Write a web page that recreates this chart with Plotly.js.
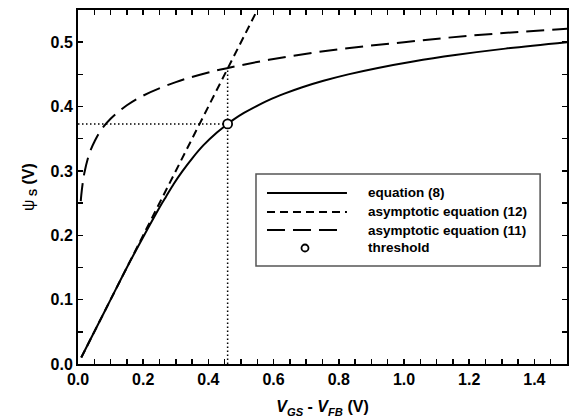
<!DOCTYPE html>
<html>
<head>
<meta charset="utf-8">
<script src="https://cdn.plot.ly/plotly-3.0.1.min.js"></script>
<style>html,body{margin:0;padding:0;background:#fff;}#chart{width:574px;height:420px;}</style>
</head>
<body>
<div id="chart"></div>
<script>
// equation (8): full solution
const xEq8 = [0.01,0.05,0.10,0.15,0.203,0.258,0.27,0.294,0.321,0.351,0.385,0.427,0.459,0.478,0.509,0.545,0.585,0.633,0.688,0.753,0.829,0.92,1.028,1.157,1.311,1.5];
const yEq8 = [0.01,0.05,0.10,0.15,0.20,0.25,0.26,0.28,0.30,0.32,0.34,0.36,0.373,0.38,0.39,0.40,0.41,0.42,0.43,0.44,0.45,0.46,0.47,0.48,0.49,0.50];
// asymptotic equation (12): linear
const xEq12 = [0.01,0.57];
const yEq12 = [0.01,0.57];
// asymptotic equation (11): logarithmic
const xEq11 = [0.0085,0.01,0.015,0.02,0.03,0.04,0.05,0.07,0.10,0.15,0.20,0.30,0.40,0.46,0.60,0.80,1.00,1.20,1.50];
const yEq11 = [0.253,0.262,0.283,0.298,0.319,0.334,0.345,0.363,0.381,0.402,0.417,0.438,0.453,0.460,0.474,0.489,0.500,0.510,0.521];
// threshold point and intersection of asymptotes
const xThr = [0.459];
const yThr = [0.373];
const yCross = [0.46];
const xTicks = [0.0,0.2,0.4,0.6,0.8,1.0,1.2,1.4];
const yTicks = [0.0,0.1,0.2,0.3,0.4,0.5];
const legendLabels = ['equation (8)','asymptotic equation (12)','asymptotic equation (11)','threshold'];

const FONT = 'Arial, "Liberation Sans", sans-serif';
const traces = [
  {x:[0, xThr[0]], y:[yThr[0], yThr[0]], mode:'lines', line:{color:'#000', width:1.5, dash:'1.5px,2.5px'}, showlegend:false, hoverinfo:'skip'},
  {x:[xThr[0], xThr[0]], y:[0, yCross[0]], mode:'lines', line:{color:'#000', width:1.5, dash:'1.5px,2.5px'}, showlegend:false, hoverinfo:'skip'},
  {x:xEq12, y:yEq12, mode:'lines', name:legendLabels[1], line:{color:'#000', width:2, dash:'8px,5px'}, showlegend:false},
  {x:xEq11, y:yEq11, mode:'lines', name:legendLabels[2], line:{color:'#000', width:2, dash:'18px,8px', shape:'spline'}, showlegend:false},
  {x:xEq8, y:yEq8, mode:'lines', name:legendLabels[0], line:{color:'#000', width:2, shape:'spline'}, showlegend:false},
  {x:xThr, y:yThr, mode:'markers', name:legendLabels[3], marker:{symbol:'circle', size:9, color:'#fff', line:{color:'#000', width:1.8}}, showlegend:false}
];

// custom legend in paper coordinates
const L = {x0:0.364, x1:0.945, y0:0.277, y1:0.537, s0:0.3865, s1:0.55, sc:0.4642, tx:0.589, rows:[0.4831,0.4294,0.3785,0.3277]};
const shapes = [
  {type:'rect', xref:'paper', yref:'paper', x0:L.x0, x1:L.x1, y0:L.y0, y1:L.y1, line:{color:'#555', width:1.5}, fillcolor:'#fff', layer:'above'},
  {type:'line', xref:'paper', yref:'paper', x0:L.s0, x1:L.s1, y0:L.rows[0], y1:L.rows[0], line:{color:'#000', width:2}},
  {type:'line', xref:'paper', yref:'paper', x0:L.s0, x1:L.s1, y0:L.rows[1], y1:L.rows[1], line:{color:'#000', width:2, dash:'8px,5px'}},
  {type:'line', xref:'paper', yref:'paper', x0:L.s0, x1:L.s1-0.01, y0:L.rows[2], y1:L.rows[2], line:{color:'#000', width:2, dash:'18px,8px'}},
  {type:'circle', xref:'paper', yref:'paper', xsizemode:'pixel', ysizemode:'pixel', xanchor:L.sc, yanchor:L.rows[3], x0:-3.5, x1:3.5, y0:-3.5, y1:3.5, line:{color:'#000', width:1.8}, fillcolor:'#fff'}
];
const annotations = legendLabels.map((t,i)=>({
  xref:'paper', yref:'paper', x:L.tx, y:L.rows[i], xanchor:'left', yanchor:'middle', showarrow:false,
  text:'<b>'+t+'</b>', font:{family:FONT, size:13.5, color:'#000'}
}));

const axisCommon = {
  showgrid:false, zeroline:false, showline:true, linecolor:'#000', linewidth:2, mirror:'allticks',
  ticks:'inside', ticklen:5, tickwidth:1.5, tickcolor:'#000',
  tickfont:{family:FONT, size:16, color:'#000', weight:700}, tickformat:'.1f',
  minor:{ticks:'inside', ticklen:5, tickwidth:1.5, tickcolor:'#000', dtick:0.05, showgrid:false}
};
const layout = {
  width:574, height:420, margin:{l:78, r:7, t:10, b:56},
  paper_bgcolor:'#fff', plot_bgcolor:'#fff', showlegend:false,
  font:{family:FONT, color:'#000'},
  xaxis:Object.assign({}, axisCommon, {range:[0,1.5], tickvals:xTicks,
    title:{text:'<b><i>V</i><sub><i>GS</i></sub> - <i>V</i><sub><i>FB</i></sub> (V)</b>', font:{family:FONT, size:16, color:'#000'}, standoff:14}}),
  yaxis:Object.assign({}, axisCommon, {range:[0,0.55], tickvals:yTicks,
    title:{text:'ψ<b><sub> S</sub> (V)</b>', font:{family:FONT, size:16, color:'#000'}, standoff:12}}),
  shapes:shapes, annotations:annotations
};
Plotly.newPlot('chart', traces, layout, {staticPlot:true, displayModeBar:false});
</script>
</body>
</html>
